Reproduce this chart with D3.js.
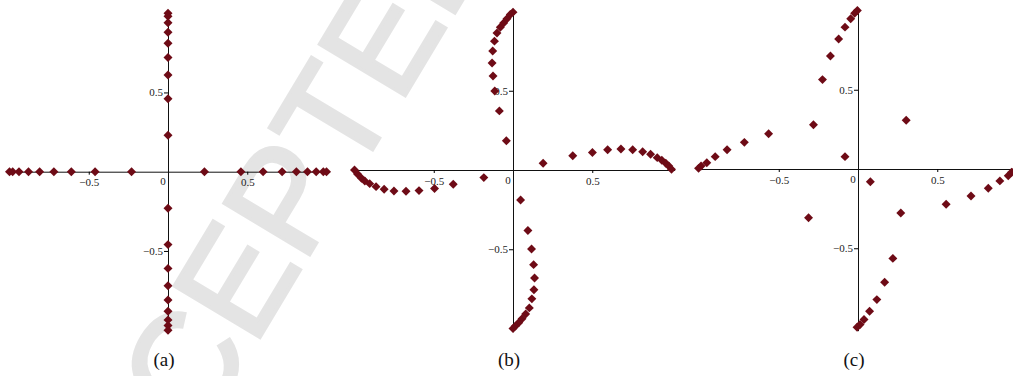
<!DOCTYPE html>
<html>
<head>
<meta charset="utf-8">
<script src="https://cdn.jsdelivr.net/npm/d3@7"></script>
<style>
  html, body { margin: 0; padding: 0; background: #fff; }
  svg { display: block; }
</style>
</head>
<body>
<div id="chart"></div>
<script>
// panel (a): points lying on the axes
const aX = [-1.0, -0.98, -0.94, -0.88, -0.81, -0.72, -0.61, -0.46, -0.23,
            0.23, 0.46, 0.6, 0.72, 0.81, 0.88, 0.935, 0.98, 1.0];
const aY = [1.0, 0.98, 0.94, 0.88, 0.81, 0.72, 0.61, 0.46, 0.23,
            -0.23, -0.46, -0.61, -0.72, -0.81, -0.88, -0.935, -0.97, -1.0];

// panel (b): four curved arms
const bRight = [[0.19,0.042],[0.377,0.09],[0.501,0.111],[0.597,0.128],[0.681,0.132],[0.755,0.128],
                [0.818,0.115],[0.868,0.099],[0.91,0.078],[0.939,0.061],[0.964,0.042],[0.983,0.025],[1.0,0.004]];
const bLeft = [[-1.0,0.0],[-0.981,-0.025],[-0.956,-0.052],[-0.935,-0.069],[-0.904,-0.086],[-0.864,-0.105],
               [-0.813,-0.122],[-0.751,-0.132],[-0.675,-0.134],[-0.593,-0.13],[-0.495,-0.117],[-0.377,-0.09],[-0.184,-0.048]];
const bUp = [[-0.042,0.184],[-0.086,0.373],[-0.115,0.499],[-0.126,0.593],[-0.132,0.675],[-0.128,0.751],
             [-0.117,0.813],[-0.101,0.864],[-0.08,0.901],[-0.059,0.927],[-0.038,0.954],[-0.017,0.981],[0.0,0.996]];
const bDown = [[0.048,-0.189],[0.094,-0.382],[0.117,-0.499],[0.13,-0.597],[0.136,-0.681],[0.132,-0.755],
               [0.119,-0.813],[0.103,-0.87],[0.08,-0.908],[0.057,-0.939],[0.036,-0.964],[0.015,-0.985],[0.0,-1.0]];

// panel (c): scattered arms
const cPoints = [[-0.004,1.0],[-0.021,0.983],[-0.046,0.948],[-0.082,0.895],[-0.122,0.82],[-0.174,0.713],
                 [-0.224,0.564],[-0.281,0.279],[-0.564,0.222],[-0.717,0.168],[-0.826,0.122],[-0.901,0.078],
                 [-0.954,0.04],[-0.99,0.019],[-1.006,0.004],[-0.082,0.078],[0.304,0.308],[0.078,-0.08],
                 [-0.312,-0.308],[0.27,-0.277],[0.556,-0.222],[0.713,-0.17],[0.822,-0.122],[0.895,-0.075],
                 [0.948,-0.042],[0.969,-0.021],[1.0,0.0],[0.22,-0.564],[0.168,-0.715],[0.119,-0.824],
                 [0.073,-0.897],[0.038,-0.95],[0.013,-0.981],[-0.006,-0.998]];

const tickVals = [-0.5, 0.5];
const captions = ["(a)", "(b)", "(c)"];

const width = 1013;
const height = 376;
const k = 158.5;          // pixels per unit
const lim = 1.02;
const markColor = "#6e0b16";
const serif = "'Liberation Serif', 'Times New Roman', Times, serif";

const panelData = [
  aX.map(v => [v, 0]).concat(aY.map(v => [0, v])),
  bRight.concat(bLeft, bUp, bDown),
  cPoints
];
const centers = [{x: 168, y: 171.7}, {x: 513, y: 170}, {x: 858, y: 169}];

const svg = d3.select("#chart")
  .append("svg")
  .attr("width", width)
  .attr("height", height);

// watermark behind everything
svg.append("text")
  .attr("transform", "translate(96,610) rotate(-59)")
  .attr("font-family", "'Liberation Sans', Arial, sans-serif")
  .attr("font-size", 145)
  .attr("fill", "#e4e4e4")
  .attr("stroke", "#e4e4e4")
  .attr("stroke-width", 3.5)
  .attr("stroke-linejoin", "miter")
  .text("ACCEPTED MANUSCRIPT");

const symbol = d3.symbol().type(d3.symbolSquare).size(40);

panelData.forEach((pts, i) => {
  const c = centers[i];
  const x = d3.scaleLinear().domain([-lim, lim]).range([c.x - lim * k, c.x + lim * k]);
  const y = d3.scaleLinear().domain([-lim, lim]).range([c.y + lim * k, c.y - lim * k]);

  const g = svg.append("g");

  // x axis through the origin
  const gx = g.append("g")
    .attr("transform", `translate(0,${y(0)})`)
    .call(d3.axisBottom(x).tickValues(tickVals).tickSize(3).tickSizeOuter(0).tickFormat(d3.format(".1f")));
  gx.selectAll(".tick text").attr("y", 7);

  // y axis through the origin
  const gy = g.append("g")
    .attr("transform", `translate(${x(0)},0)`)
    .call(d3.axisLeft(y).tickValues(tickVals).tickSize(4).tickSizeOuter(0).tickFormat(d3.format(".1f")));
  gy.selectAll(".tick text").attr("x", -5);

  g.selectAll(".tick text")
    .attr("font-family", serif)
    .attr("font-size", 11)
    .attr("fill", "#222");
  g.selectAll(".domain").attr("stroke", "#111");

  g.append("text")
    .attr("x", x(0) - 5)
    .attr("y", y(0) + 13.5)
    .attr("text-anchor", "middle")
    .attr("font-family", serif)
    .attr("font-size", 11)
    .attr("fill", "#222")
    .text("0");

  g.selectAll(".mark")
    .data(pts)
    .enter()
    .append("path")
      .attr("class", "mark")
      .attr("d", symbol)
      .attr("transform", d => `translate(${x(d[0])},${y(d[1])}) rotate(45)`)
      .attr("fill", markColor);

  svg.append("text")
    .attr("x", x(0) - 4)
    .attr("y", 366)
    .attr("text-anchor", "middle")
    .attr("font-family", serif)
    .attr("font-size", 19)
    .attr("fill", "#111")
    .text(captions[i]);
});
</script>
</body>
</html>
